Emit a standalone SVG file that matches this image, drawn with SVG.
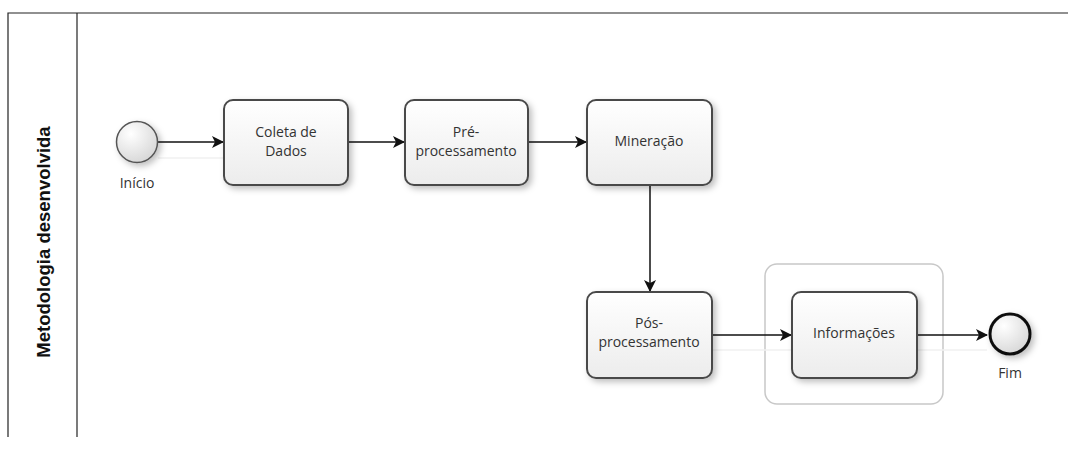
<svg xmlns="http://www.w3.org/2000/svg" width="1068" height="463" viewBox="0 0 1068 463">
<style>
.task{fill:url(#g);stroke:#4a4a4a;stroke-width:2;filter:url(#sh)}
.lbl{font-family:"Open Sans","Noto Sans",sans-serif;font-size:14px;fill:#333;text-anchor:middle}
.conn{stroke:#111;stroke-width:1.5;fill:none;marker-end:url(#ah)}
.frame{stroke:#222;stroke-width:1.2;fill:none}
.ghost{stroke:#f0f0f0;stroke-width:1.5}
</style>
<defs>
<linearGradient id="g" x1="0" y1="0" x2="0" y2="1"><stop offset="0" stop-color="#ffffff"/><stop offset="1" stop-color="#ececec"/></linearGradient>
<radialGradient id="cg" cx="0.35" cy="0.3" r="0.8"><stop offset="0" stop-color="#ffffff"/><stop offset="1" stop-color="#d4d4d4"/></radialGradient>
<filter id="sh" x="-20%" y="-20%" width="150%" height="150%"><feDropShadow dx="3" dy="3" stdDeviation="3" flood-color="#000" flood-opacity="0.25"/></filter>
<marker id="ah" markerWidth="12" markerHeight="12" refX="11" refY="6" orient="auto" markerUnits="userSpaceOnUse"><path d="M0,0 L12,6 L0,12 L3,6 Z" fill="#111"/></marker>
</defs>
<g id="pool">
<path class="frame" d="M8,437 V13 H1068"/>
<line class="frame" x1="77" y1="13" x2="77" y2="437"/>
<text x="50" y="242" transform="rotate(-90 50 242)" font-family="Liberation Sans,Arial,sans-serif" font-size="18.5" font-weight="bold" fill="#111" text-anchor="middle">Metodologia desenvolvida</text>
</g>
<g id="group">
<rect x="765" y="264" width="178" height="140" rx="12" fill="none" stroke="#c8c8c8" stroke-width="1.5"/>
</g>
<g id="connectors">
<line class="ghost" x1="158" y1="158" x2="223" y2="158"/>
<line class="ghost" x1="713" y1="350" x2="791" y2="350"/>
<line class="ghost" x1="918" y1="350" x2="987" y2="350"/>
<line class="conn" x1="158" y1="142" x2="223" y2="142"/>
<line class="conn" x1="349" y1="142" x2="404" y2="142"/>
<line class="conn" x1="529" y1="142" x2="586" y2="142"/>
<line class="conn" x1="650" y1="186" x2="650" y2="291"/>
<line class="conn" x1="713" y1="335" x2="791" y2="335"/>
<line class="conn" x1="918" y1="335" x2="987" y2="335"/>
</g>
<g id="start">
<circle cx="137" cy="142" r="20.5" fill="url(#cg)" stroke="#555" stroke-width="1.5" filter="url(#sh)"/>
<text class="lbl" x="137" y="188">Início</text>
</g>
<g id="coleta">
<rect class="task" x="224" y="100" width="124" height="85" rx="9"/>
<text class="lbl" x="286" y="137">Coleta de</text>
<text class="lbl" x="286" y="156">Dados</text>
</g>
<g id="pre">
<rect class="task" x="405" y="100" width="123" height="85" rx="9"/>
<text class="lbl" x="466" y="137">Pré-</text>
<text class="lbl" x="466" y="156">processamento</text>
</g>
<g id="mineracao">
<rect class="task" x="587" y="100" width="125" height="85" rx="9"/>
<text class="lbl" x="649" y="146">Mineração</text>
</g>
<g id="pos">
<rect class="task" x="587" y="292" width="125" height="86" rx="9"/>
<text class="lbl" x="649" y="328">Pós-</text>
<text class="lbl" x="649" y="347">processamento</text>
</g>
<g id="informacoes">
<rect class="task" x="792" y="292" width="125" height="86" rx="9"/>
<text class="lbl" x="854" y="338">Informações</text>
</g>
<g id="fim">
<circle cx="1010" cy="334" r="20" fill="url(#cg)" stroke="#111" stroke-width="3" filter="url(#sh)"/>
<text class="lbl" x="1010" y="378">Fim</text>
</g>
</svg>
